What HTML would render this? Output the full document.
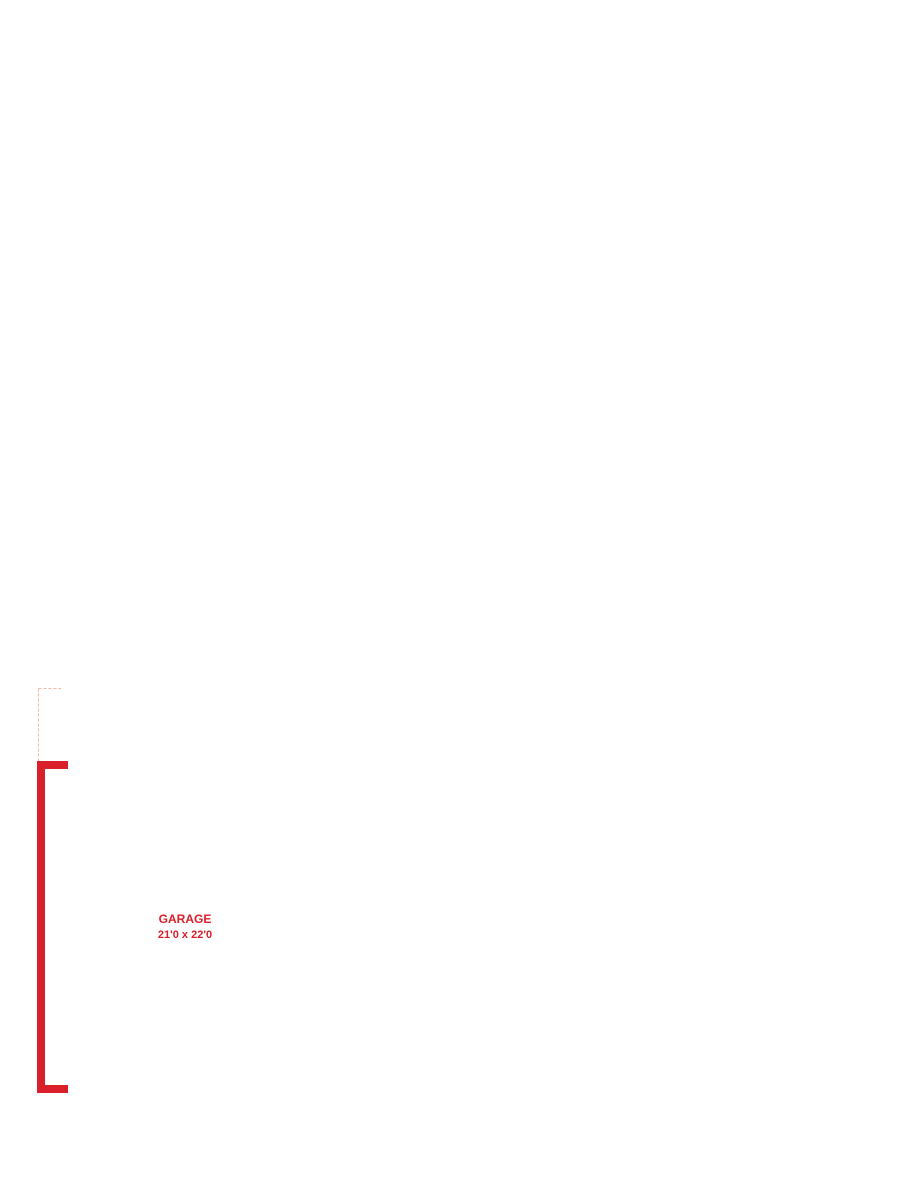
<!DOCTYPE html>
<html><head><style>
html,body{margin:0;padding:0;background:#fff;width:900px;height:1201px;overflow:hidden;position:relative;font-family:"Liberation Sans",sans-serif}
.r{position:absolute;background:#d9202a}
.t{position:absolute;color:#d9202a;font-weight:bold;text-align:center;width:120px;left:125px}
</style></head><body>
<svg width="900" height="1201" style="position:absolute;left:0;top:0">
<line x1="38.5" y1="688.5" x2="61" y2="688.5" stroke="#f2b8a8" stroke-width="1" stroke-dasharray="3,2"/>
<line x1="38.5" y1="688.5" x2="38.5" y2="761" stroke="#f2b8a8" stroke-width="1" stroke-dasharray="3,2"/>
</svg>
<div class="r" style="left:37px;top:761px;width:8px;height:332px"></div>
<div class="r" style="left:37px;top:761px;width:31px;height:8px"></div>
<div class="r" style="left:37px;top:1085px;width:31px;height:8px"></div>
<div class="t" style="top:912px;font-size:12px">GARAGE</div>
<div class="t" style="top:929px;font-size:11px">21'0 x 22'0</div>
</body></html>
